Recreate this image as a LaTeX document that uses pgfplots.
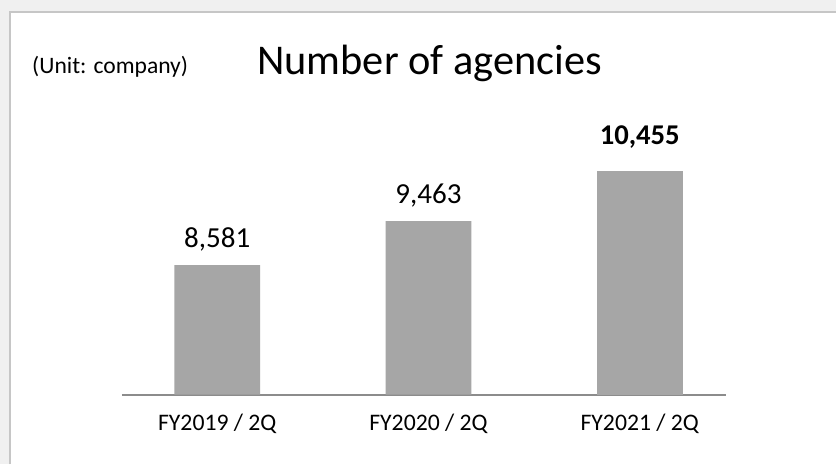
\documentclass[border=0pt]{standalone}
\usepackage{fontspec}
\setmainfont{Carlito}
\usepackage{pgfplots}
\pgfplotsset{compat=1.18}
\definecolor{outerbg}{HTML}{F0F0F0}
\definecolor{frame}{HTML}{C6C6C6}
\definecolor{bargrey}{HTML}{A6A6A6}
\definecolor{axisgrey}{HTML}{8C8C8C}

\begin{document}
\begin{tikzpicture}[x=0.75pt,y=-0.75pt]
  % background panel, 1 unit = 1 px of the reference
  \fill[outerbg] (0,0) rectangle (837,465);
  \fill[white] (10,12) rectangle (837,465);
  \draw[frame,line width=1.5pt] (10,465) -- (10,12) -- (837,12);

  \node[anchor=base west,inner sep=0pt,font=\fontsize{17.7}{20}\selectfont] at (32,74) {(Unit: company)};
  \node[anchor=base,inner sep=0pt,font=\fontsize{31.8}{36}\selectfont] at (430,75) {Number of agencies};
  \coordinate (O) at (122,395);

  \begin{axis}[
    at={(O)}, anchor=south west,
    scale only axis, width=453.75pt, height=225.75pt,
    xmin=-0.4515, xmax=2.409, ymin=6000, ymax=12000,
    axis y line=none, axis x line=bottom,
    x axis line style={-, draw=axisgrey, line width=1.5pt},
    xtick={0,1,2}, xticklabels={FY2019 / 2Q, FY2020 / 2Q, FY2021 / 2Q},
    xtick style={draw=none},
    xticklabel style={anchor=base, yshift=-22.5pt, font=\fontsize{17.8}{20}\selectfont},
    ybar, bar width=64.5pt, bar shift=0pt,
    point meta=explicit symbolic,
    nodes near coords,
    clip=false,
  ]
    \addplot[fill=bargrey, draw=none,
      every node near coord/.append style={anchor=base, yshift=13.5pt, font=\fontsize{21.8}{24}\selectfont}]
      coordinates {(0,8581) [8,581] (1,9463) [9,463]};
    \addplot[fill=bargrey, draw=none,
      every node near coord/.append style={anchor=base, yshift=20.25pt, font=\fontsize{21.5}{24}\selectfont\bfseries}]
      coordinates {(2,10455) [10,455]};
  \end{axis}
\end{tikzpicture}
\end{document}
